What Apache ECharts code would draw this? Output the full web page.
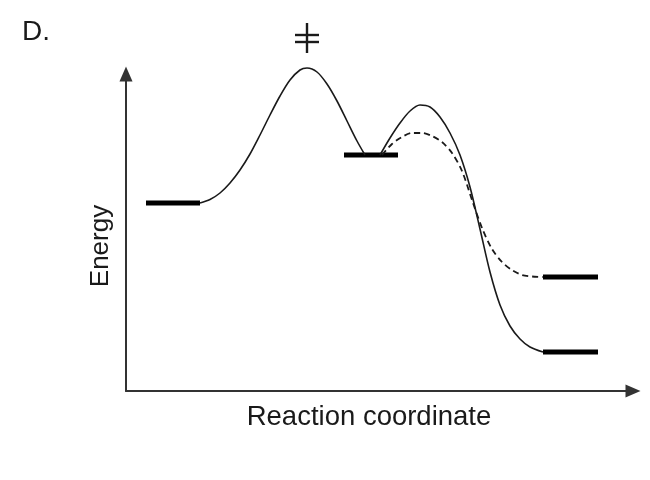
<!DOCTYPE html>
<html lang="en">
<head>
<meta charset="UTF-8">
<title>Energy diagram D.</title>
<script src="https://cdn.jsdelivr.net/npm/echarts@6.0.0/dist/echarts.min.js"></script>
<style>
    html, body { margin: 0; padding: 0; background: #fff; }
    #chart { width: 650px; height: 480px; }
</style>
</head>
<body>
<div id="chart"></div>
<script>
    // energy levels: [start of reaction coordinate, end, energy]
    const levels = [
        [20, 74, 188],    // reactant
        [218, 272, 236],  // intermediate
        [417, 472, 114],  // product (dashed path)
        [417, 472, 39]    // product (solid path)
    ];

    // first step, reactant -> intermediate
    const step1 = [[74, 188], [84, 191.5], [94, 198], [104, 208], [114, 221], [124, 237],
        [134, 256], [144, 276], [154, 295], [164, 311], [174, 321], [181, 323],
        [191, 319], [201, 307], [211, 290], [221, 270], [231, 250], [239, 236]];

    // second step, intermediate -> lower product
    const step2Solid = [[254, 236], [264, 253], [274, 268], [284, 280], [294, 286], [304, 284],
        [314, 274], [324, 258], [334, 236], [344, 204], [354, 162], [364, 119], [374, 86],
        [384, 65], [394, 52], [404, 44], [417, 39]];

    // second step, intermediate -> upper product
    const step2Dashed = [[256, 236], [266, 247], [276, 254], [286, 258], [296, 258], [306, 255],
        [316, 249], [326, 238], [336, 220], [346, 191], [356, 163], [366, 142], [376, 129],
        [386, 121], [396, 116], [406, 114.5], [417, 114]];

    const font = '"Liberation Sans", Arial, Helvetica, sans-serif';
    const ink = '#1a1a1a';

    let series = [];
    levels.forEach(l => {
        series.push({
            type: 'line', data: [[l[0], l[2]], [l[1], l[2]]],
            symbol: 'none', clip: false,
            lineStyle: { color: '#000', width: 5, cap: 'butt' }
        });
    });
    series.push({
        type: 'line', data: step1, smooth: 0.3, symbol: 'none', clip: false,
        lineStyle: { color: ink, width: 1.6 }
    });
    series.push({
        type: 'line', data: step2Solid, smooth: 0.3, symbol: 'none', clip: false,
        lineStyle: { color: ink, width: 1.6 }
    });
    series.push({
        type: 'line', data: step2Dashed, smooth: 0.3, symbol: 'none', clip: false,
        lineStyle: { color: ink, width: 1.8, type: [6, 4] }
    });

    const axisStyle = {
        show: true,
        symbol: ['none', 'triangle'],
        symbolSize: [13, 15],
        lineStyle: { color: '#333', width: 2 }
    };

    let chart = echarts.init(document.getElementById('chart'), null, { renderer: 'canvas' });
    chart.setOption({
        animation: false,
        backgroundColor: '#fff',
        grid: { left: 126, right: 17, top: 74, bottom: 89 },
        xAxis: {
            type: 'value', min: 0, max: 507,
            axisLine: axisStyle, axisTick: { show: false },
            axisLabel: { show: false }, splitLine: { show: false }
        },
        yAxis: {
            type: 'value', min: 0, max: 317,
            axisLine: axisStyle, axisTick: { show: false },
            axisLabel: { show: false }, splitLine: { show: false }
        },
        series: series
    });

    // labels and the transition state mark above the highest peak
    let peak = step1.reduce((a, b) => (b[1] > a[1] ? b : a));
    let p = chart.convertToPixel({ gridIndex: 0 }, peak);
    chart.setOption({
        graphic: [
            {
                type: 'text', left: 22, top: 18,
                style: { text: 'D.', font: '28px ' + font, fill: ink }
            },
            {
                type: 'text', x: 369, y: 417,
                style: { text: 'Reaction coordinate', font: '27.5px ' + font, fill: ink,
                         align: 'center', verticalAlign: 'middle' }
            },
            {
                type: 'text', x: 101, y: 246, rotation: Math.PI / 2,
                style: { text: 'Energy', font: '26px ' + font, fill: ink,
                         align: 'center', verticalAlign: 'middle' }
            },
            {
                type: 'group', x: p[0], y: p[1] - 30,
                children: [
                    { type: 'line', shape: { x1: 0, y1: -15, x2: 0, y2: 15 },
                      style: { stroke: ink, lineWidth: 2.4 } },
                    { type: 'line', shape: { x1: -12, y1: -3, x2: 12, y2: -3 },
                      style: { stroke: ink, lineWidth: 2.4 } },
                    { type: 'line', shape: { x1: -12, y1: 4, x2: 12, y2: 4 },
                      style: { stroke: ink, lineWidth: 2.4 } }
                ]
            }
        ]
    });
</script>
</body>
</html>
